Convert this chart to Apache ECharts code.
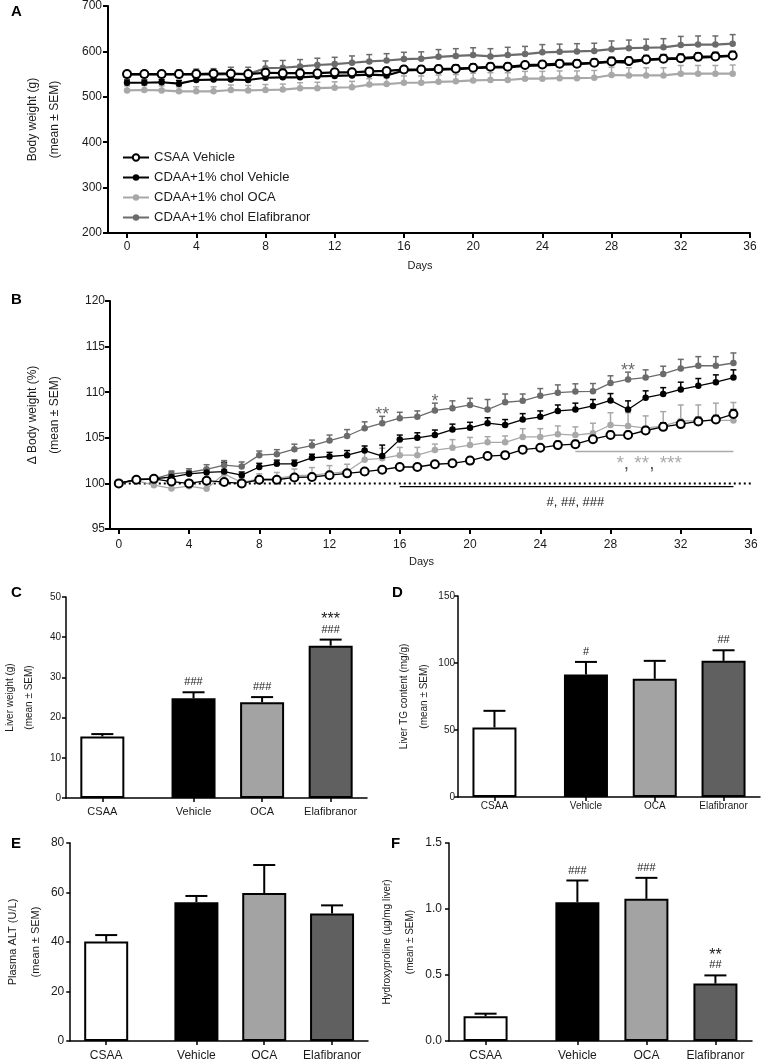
<!DOCTYPE html>
<html>
<head>
<meta charset="utf-8">
<script src="https://cdn.jsdelivr.net/npm/echarts@6/dist/echarts.min.js"></script>
<style>html,body{margin:0;padding:0;background:#fff}#c{width:762px;height:1062px}</style>
</head>
<body>
<div id="c"></div>
<script>
// ---------------- DATA ----------------
const days = [0,1,2,3,4,5,6,7,8,9,10,11,12,13,14,15,16,17,18,19,20,21,22,23,24,25,26,27,28,29,30,31,32,33,34,35];
const dayTicks = [0,4,8,12,16,20,24,28,32,36];
const seriesNames = ['CSAA Vehicle','CDAA+1% chol Vehicle','CDAA+1% chol OCA','CDAA+1% chol Elafibranor'];

// Panel A: body weight (g)
const bwCSAA = [550,550,550,550,550,551,551,550,553,552,552,552,554,554,556,557,560,560,561,562,564,566,566,570,571,573,573,575,578,579,582,584,585,588,589,591];
const bwVeh  = [531,531,532,529,537,538,538,537,542,543,543,545,546,547,549,547,558,559,560,561,563,565,565,568,569,571,572,574,577,575,581,583,584,586,588,590];
const bwOCA  = [514,515,514,512,512,512,515,514,515,516,519,519,520,521,527,528,531,531,533,534,536,537,537,540,540,541,541,542,548,547,547,547,551,551,551,551];
const bwElaf = [548,549,549,549,549,549,550,550,563,564,567,570,572,575,578,580,583,584,588,590,592,589,592,594,598,599,600,601,605,607,608,609,614,615,615,617];
const bwCSAASem = [5,6,6,6,6,6,6,6,7,7,7,7,7,7,7,7,7,7,7,7,7,7,7,7,7,7,7,7,8,8,8,8,8,8,8,8];
const bwVehSem  = [6,6,6,7,7,7,7,7,8,8,8,8,8,8,8,8,9,9,9,9,9,9,9,9,9,9,9,9,10,10,10,10,10,10,10,10];
const bwOCASem  = [10,10,10,10,10,10,11,11,12,12,12,13,13,13,13,14,15,15,15,15,16,16,16,16,16,16,16,16,17,17,17,17,18,18,18,19];
const bwElafSem = [5,7,8,10,12,13,15,15,16,16,15,15,15,15,15,15,15,15,16,16,16,17,17,17,17,17,17,17,18,18,19,19,19,19,19,20];

// Panel B: delta body weight (%)
const pcCSAA = [100,100.4,100.5,100.2,100,100.3,100.15,100,100.4,100.4,100.65,100.7,100.9,101.1,101.3,101.5,101.8,101.8,102.1,102.2,102.5,103.0,103.1,103.7,103.9,104.2,104.3,104.85,105.3,105.3,105.8,106.2,106.5,106.8,107.0,107.6];
const pcVeh  = [100,100.45,100.5,100.7,101.05,101.2,101.3,100.9,101.8,102.15,102.15,102.8,102.95,103.1,103.6,103.0,104.8,105.0,105.3,105.9,106.1,106.6,106.4,107.0,107.3,107.95,108.1,108.5,109.1,108.1,109.4,109.8,110.3,110.7,111.1,111.6];
const pcOCA  = [100,100.3,99.8,99.45,99.7,99.4,101.05,100.1,100.5,100.55,100.85,100.9,101.1,101.3,102.6,102.75,103.1,103.1,103.65,103.9,104.2,104.5,104.5,105.1,105.1,105.4,105.3,105.5,106.4,106.3,106.05,106.3,106.85,106.85,106.9,106.9];
const pcElaf = [100,100.45,100.5,101.05,101.2,101.55,102.0,101.85,103.1,103.2,103.75,104.15,104.7,105.2,106.05,106.6,107.15,107.3,108.0,108.25,108.6,108.1,108.9,109.05,109.6,109.95,110.07,110.1,111.0,111.4,111.6,112.0,112.6,112.9,112.9,113.2];
const pcCSAASem = [0,0.1,0.1,0.15,0.15,0.2,0.2,0.2,0.2,0.2,0.2,0.2,0.25,0.25,0.25,0.3,0.3,0.3,0.3,0.3,0.35,0.35,0.35,0.35,0.35,0.4,0.4,0.4,0.4,0.4,0.4,0.45,0.45,0.45,0.45,0.5];
const pcVehSem  = [0,0.15,0.2,0.3,0.3,0.4,1.0,0.35,0.4,0.4,0.4,0.4,0.45,0.5,0.5,1.2,0.5,0.55,0.55,0.6,0.6,0.6,0.6,0.65,0.65,0.65,0.7,0.7,0.75,0.95,0.75,0.7,0.8,0.8,0.8,0.85];
const pcOCASem  = [0,0.2,0.3,0.35,0.4,0.45,0.5,0.5,0.55,0.65,0.73,0.84,0.85,0.8,1.0,1.1,0.85,0.85,0.66,0.9,0.84,0.62,0.7,0.9,0.9,0.9,0.9,1.1,1.35,1.46,1.35,1.57,1.75,1.75,1.9,1.97];
const pcElafSem = [0,0.2,0.2,0.3,0.4,0.5,0.5,0.5,0.45,0.5,0.55,0.6,0.6,0.7,0.7,0.75,0.65,0.65,0.8,0.8,0.73,1.1,0.9,0.75,0.8,0.85,0.85,0.85,0.8,0.8,0.85,0.85,1.0,1.0,1.0,1.1];
const sigElafDays  = [15, 18, 29];
const sigElafMarks = ['**', '*', '**'];
const sigVehLine  = [[16, 99.65], [35, 99.65]];
const sigVehText  = [[26, 97.9, '#, ##, ###']];
const sigOCALine  = [[26, 103.5], [35, 103.5]];
const sigOCAText  = [[30.2, 102.2]];
const baselinePct = [[0, 100], [36, 100]];

// Bar panels
const groups = ['CSAA', 'Vehicle', 'OCA', 'Elafibranor'];
const liverWeight    = [15.3, 24.8, 23.8, 37.9];
const liverWeightSem = [0.6, 1.5, 1.3, 1.5];
const liverWeightSig = ['', '###', '###', '***\n###'];
const liverTG    = [51.9, 91.4, 88.2, 101.6];
const liverTGSem = [12.4, 9.4, 13.4, 7.9];
const liverTGSig = ['', '#', '', '##'];
const plasmaALT    = [40.2, 56.1, 59.8, 51.5];
const plasmaALTSem = [2.6, 2.5, 11.3, 3.3];
const plasmaALTSig = ['', '', '', ''];
const hydroxy    = [0.187, 1.052, 1.077, 0.435];
const hydroxySem = [0.02, 0.164, 0.159, 0.062];
const hydroxySig = ['', '###', '###', '**\n##'];

// ---------------- STYLE / LAYOUT ----------------
const FONT = "'Liberation Sans', Arial, Helvetica, sans-serif";
const TXT = '#1a1a1a';
const lineColors = ['#000000', '#000000', '#a8a8a8', '#6b6b6b'];
const markerFill = ['#ffffff', '#000000', '#a8a8a8', '#6b6b6b'];
const barFill = ['#ffffff', '#000000', '#a3a3a3', '#606060'];
const slotPos = [0, 1.33, 2.33, 3.33];

const chart = echarts.init(document.getElementById('c'), null, {renderer: 'canvas', width: 762, height: 1062});

const grids = [
  {left: 108, top: 3, width: 642, height: 230},
  {left: 110, top: 301, width: 641, height: 228},
  {left: 61, top: 597, width: 306, height: 201},
  {left: 458, top: 596, width: 302, height: 201},
  {left: 63, top: 843, width: 305, height: 201},
  {left: 449, top: 843, width: 303, height: 201}
];

function axisLineCfg(w) { return {show: true, onZero: false, lineStyle: {color: '#000', width: w}}; }

function yAxisCfg(gi, min, max, interval, name, o) {
  return {
    type: 'value', gridIndex: gi, min, max, interval, name,
    nameLocation: 'middle', nameRotate: 90, nameGap: o.nameGap,
    nameTextStyle: {fontSize: o.nameSize, lineHeight: o.nameLH, color: TXT, fontFamily: FONT},
    axisLine: axisLineCfg(o.lw),
    axisTick: {show: true, length: o.tick, lineStyle: {color: '#000', width: o.lw}},
    axisLabel: {fontSize: o.labelSize, margin: o.margin, color: TXT, fontFamily: FONT,
      formatter: o.fmt || (v => String(v))},
    splitLine: {show: false}
  };
}

function xDaysCfg(gi, min, margin) {
  return {
    type: 'value', gridIndex: gi, min, max: 36,
    name: 'Days', nameLocation: 'middle', nameGap: 27,
    nameTextStyle: {fontSize: 11, color: TXT, fontFamily: FONT, padding: [0, 18, 0, 0]},
    axisLine: axisLineCfg(2),
    axisTick: {show: true, length: 5, customValues: dayTicks, lineStyle: {color: '#000', width: 2}},
    axisLabel: {fontSize: 12, margin, color: TXT, fontFamily: FONT, customValues: dayTicks},
    splitLine: {show: false}
  };
}

function nearestGroup(v) {
  let bi = 0;
  slotPos.forEach((p, i) => { if (Math.abs(p - v) < Math.abs(slotPos[bi] - v)) bi = i; });
  return groups[bi];
}

function xBarCfg(gi, labelSize, margin) {
  return {
    type: 'value', gridIndex: gi, min: -0.53, max: 3.86,
    axisLine: axisLineCfg(1.5),
    axisTick: {show: true, length: 4, customValues: slotPos, lineStyle: {color: '#000', width: 1.5}},
    axisLabel: {fontSize: labelSize, margin, color: TXT, fontFamily: FONT, customValues: slotPos,
      formatter: v => nearestGroup(v)},
    splitLine: {show: false}
  };
}

// error bar (upper only) custom series
function errSeries(gi, xs, means, sems, color, capHalf, lw, z) {
  return {
    type: 'custom', xAxisIndex: gi, yAxisIndex: gi, silent: true, z, clip: false,
    data: xs.map((x, i) => [x, means[i], sems[i]]),
    renderItem: (params, api) => {
      const x = api.value(0), m = api.value(1), s = api.value(2);
      if (!s) return null;
      const p0 = api.coord([x, m]);
      const p1 = api.coord([x, m + s]);
      return {type: 'group', children: [
        {type: 'line', shape: {x1: p0[0], y1: p0[1], x2: p1[0], y2: p1[1]}, style: {stroke: color, lineWidth: lw}},
        {type: 'line', shape: {x1: p1[0] - capHalf, y1: p1[1], x2: p1[0] + capHalf, y2: p1[1]}, style: {stroke: color, lineWidth: lw}}
      ]};
    }
  };
}

function lineSeries(gi, name, vals, idx, lw) {
  const open = idx === 0;
  return {
    type: 'line', name, xAxisIndex: gi, yAxisIndex: gi, z: 5 + (3 - idx),
    data: days.map((d, k) => [d, vals[k]]),
    symbol: 'circle', symbolSize: open ? 8 : 6.5,
    itemStyle: open ? {color: '#ffffff', borderColor: '#000', borderWidth: 2}
                    : {color: markerFill[idx], borderWidth: 0},
    lineStyle: {color: lineColors[idx], width: lw},
    emphasis: {disabled: true}
  };
}

// bar annotation text (#, *) stacked above error cap
function barSigSeries(gi, means, sems, sigs) {
  return {
    type: 'custom', xAxisIndex: gi, yAxisIndex: gi, silent: true, z: 10, clip: false,
    data: means.map((m, i) => [slotPos[i], m + sems[i]]),
    renderItem: (params, api) => {
      const txt = sigs[params.dataIndex];
      if (!txt) return null;
      const p = api.coord([api.value(0), api.value(1)]);
      const lines = txt.split('\n').reverse();
      const children = [];
      let y = p[1] - 10;
      lines.forEach((ln, k) => {
        const star = ln.indexOf('*') >= 0;
        const yy = star ? (k === 0 ? y + 2 : y + 3) : y;
        children.push({type: 'text', x: p[0], y: yy, style: {
          text: ln, fill: TXT, fontFamily: FONT, fontSize: star ? 16 : 11,
          align: 'center', verticalAlign: 'middle'}});
        y -= 13;
      });
      return {type: 'group', children};
    }
  };
}

function barSeries(gi, vals) {
  return {
    type: 'bar', xAxisIndex: gi, yAxisIndex: gi, barWidth: 44, z: 3, silent: true,
    data: vals.map((v, i) => ({value: [slotPos[i], v], itemStyle: {color: barFill[i]}})),
    itemStyle: {borderColor: '#000', borderWidth: 2}
  };
}

// ---------------- SERIES ----------------
const series = [];
const bwAll = [bwCSAA, bwVeh, bwOCA, bwElaf];
const bwSemAll = [bwCSAASem, bwVehSem, bwOCASem, bwElafSem];
const pcAll = [pcCSAA, pcVeh, pcOCA, pcElaf];
const pcSemAll = [pcCSAASem, pcVehSem, pcOCASem, pcElafSem];
const order = [0, 1, 2, 3];

// Panel A
order.forEach(i => series.push(lineSeries(0, seriesNames[i], bwAll[i], i, 2.2)));
[3, 2, 1, 0].forEach(i => series.push(errSeries(0, days, bwAll[i], bwSemAll[i], lineColors[i], 3, 1.5, 1 + (3 - i) * 0.1)));

// Panel B
series.push({type: 'line', xAxisIndex: 1, yAxisIndex: 1, silent: true, z: 1, symbol: 'none',
  data: baselinePct, lineStyle: {color: '#000', width: 2, type: [2, 3]}});
series.push({type: 'line', xAxisIndex: 1, yAxisIndex: 1, silent: true, z: 1, symbol: 'none',
  data: sigVehLine, lineStyle: {color: '#000', width: 1.3}});
series.push({type: 'line', xAxisIndex: 1, yAxisIndex: 1, silent: true, z: 1, symbol: 'none',
  data: sigOCALine, lineStyle: {color: '#aaaaaa', width: 1.3}});
order.forEach(i => series.push(lineSeries(1, seriesNames[i] + ' %', pcAll[i], i, 1.3)));
[3, 2, 1, 0].forEach(i => series.push(errSeries(1, days, pcAll[i], pcSemAll[i], lineColors[i], 3, 1.5, 1 + (3 - i) * 0.1)));
// significance marks on Elafibranor
series.push({
  type: 'custom', xAxisIndex: 1, yAxisIndex: 1, silent: true, z: 12, clip: false,
  data: sigElafDays.map(d => { const k = days.indexOf(d); return [d, pcElaf[k] + pcElafSem[k]]; }),
  renderItem: (params, api) => {
    const p = api.coord([api.value(0), api.value(1)]);
    return {type: 'text', x: p[0], y: p[1] - 1, style: {text: sigElafMarks[params.dataIndex], fill: '#6b6b6b',
      fontFamily: FONT, fontSize: 18, align: 'center', verticalAlign: 'middle'}};
  }
});
series.push({
  type: 'custom', xAxisIndex: 1, yAxisIndex: 1, silent: true, z: 12, clip: false,
  data: sigVehText.map(t => [t[0], t[1]]),
  renderItem: (params, api) => {
    const p = api.coord([api.value(0), api.value(1)]);
    return {type: 'text', x: p[0], y: p[1], style: {text: sigVehText[params.dataIndex][2], fill: TXT,
      fontFamily: FONT, fontSize: 13, align: 'center', verticalAlign: 'middle'}};
  }
});
series.push({
  type: 'custom', xAxisIndex: 1, yAxisIndex: 1, silent: true, z: 12, clip: false,
  data: sigOCAText,
  renderItem: (params, api) => {
    const p = api.coord([api.value(0), api.value(1)]);
    return {type: 'text', x: p[0], y: p[1], style: {
      text: '{s|*}{c|,} {s|**}{c|,} {s|***}',
      fontFamily: FONT, fontSize: 19, align: 'center', verticalAlign: 'middle',
      rich: {s: {fill: '#aaaaaa', fontSize: 19, fontFamily: FONT}, c: {fill: '#555555', fontSize: 19, fontFamily: FONT}}
    }};
  }
});

// Bar panels
const barPanels = [
  [2, liverWeight, liverWeightSem, liverWeightSig],
  [3, liverTG, liverTGSem, liverTGSig],
  [4, plasmaALT, plasmaALTSem, plasmaALTSig],
  [5, hydroxy, hydroxySem, hydroxySig]
];
barPanels.forEach(([gi, v, s, sig]) => {
  series.push(barSeries(gi, v));
  series.push(errSeries(gi, slotPos, v, s, '#000', 11, 2, 2));
  series.push(barSigSeries(gi, v, s, sig));
});

// ---------------- OPTION ----------------
const option = {
  animation: false,
  backgroundColor: '#ffffff',
  textStyle: {fontFamily: FONT},
  grid: grids,
  legend: {
    data: seriesNames, orient: 'vertical', left: 117, top: 146,
    itemWidth: 26, itemHeight: 8, itemGap: 7, selectedMode: false,
    textStyle: {fontSize: 13, color: TXT, fontFamily: FONT}
  },
  xAxis: [
    xDaysCfg(0, -1.1, 8),
    xDaysCfg(1, -0.5, 10),
    xBarCfg(2, 11, 8),
    xBarCfg(3, 10, 4),
    xBarCfg(4, 12, 9),
    xBarCfg(5, 12, 9)
  ],
  yAxis: [
    yAxisCfg(0, 200, 700, 100, 'Body weight (g)\n(mean ± SEM)', {nameGap: 42, nameSize: 12, nameLH: 22, lw: 2, tick: 5, labelSize: 12, margin: 6}),
    yAxisCfg(1, 95, 120, 5, 'Δ Body weight (%)\n(mean ± SEM)', {nameGap: 44, nameSize: 12, nameLH: 22, lw: 2, tick: 5, labelSize: 12, margin: 5}),
    yAxisCfg(2, 0, 50, 10, 'Liver weight (g)\n(mean ± SEM)', {nameGap: 27, nameSize: 10, nameLH: 19, lw: 1.5, tick: 4, labelSize: 10, margin: 5}),
    yAxisCfg(3, 0, 150, 50, 'Liver TG content (mg/g)\n(mean ± SEM)', {nameGap: 23, nameSize: 10, nameLH: 20, lw: 1.5, tick: 4, labelSize: 10, margin: 3}),
    yAxisCfg(4, 0, 80, 20, 'Plasma ALT (U/L)\n(mean ± SEM)', {nameGap: 17, nameSize: 11, nameLH: 23, lw: 1.5, tick: 4, labelSize: 12, margin: 6}),
    yAxisCfg(5, 0, 1.5, 0.5, 'Hydroxyproline (µg/mg liver)\n(mean ± SEM)', {nameGap: 22, nameSize: 10, nameLH: 23, lw: 1.5, tick: 4, labelSize: 12, margin: 7, fmt: v => v.toFixed(1)})
  ],
  graphic: [
    {type: 'text', left: 11, top: 4, style: {text: 'A', font: 'bold 15px ' + FONT, fill: '#000'}},
    {type: 'text', left: 11, top: 292, style: {text: 'B', font: 'bold 15px ' + FONT, fill: '#000'}},
    {type: 'text', left: 11, top: 585, style: {text: 'C', font: 'bold 15px ' + FONT, fill: '#000'}},
    {type: 'text', left: 392, top: 585, style: {text: 'D', font: 'bold 15px ' + FONT, fill: '#000'}},
    {type: 'text', left: 11, top: 836, style: {text: 'E', font: 'bold 15px ' + FONT, fill: '#000'}},
    {type: 'text', left: 391, top: 836, style: {text: 'F', font: 'bold 15px ' + FONT, fill: '#000'}}
  ],
  series
};
chart.setOption(option);
</script>
</body>
</html>
